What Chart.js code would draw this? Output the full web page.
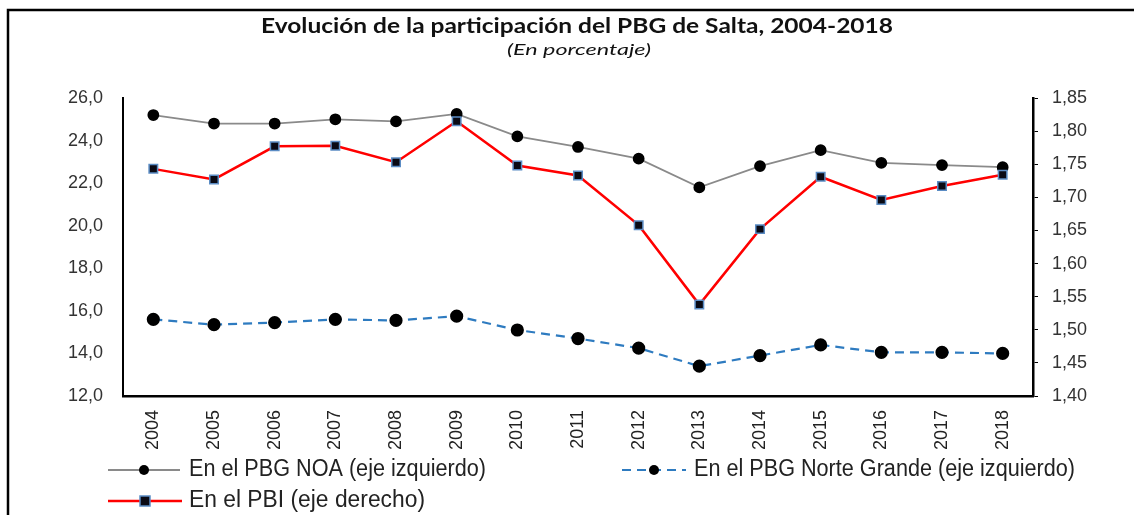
<!DOCTYPE html>
<html>
<head>
<meta charset="utf-8">
<script src="https://cdn.jsdelivr.net/npm/chart.js@4.4.1/dist/chart.umd.min.js"></script>
<style>
  html, body { margin: 0; padding: 0; background: #fff; }
  #wrap { width: 1134px; height: 515px; position: relative; }
</style>
</head>
<body>
<div id="wrap"><canvas id="chart" width="1134" height="515"></canvas></div>
<script>
const years = ["2004", "2005", "2006", "2007", "2008", "2009", "2010", "2011", "2012", "2013", "2014", "2015", "2016", "2017", "2018"];
const pbgNoa = [25.2, 24.8, 24.8, 25.0, 24.9, 25.25, 24.2, 23.7, 23.15, 21.8, 22.8, 23.55, 22.95, 22.85, 22.75];
const pbgNorteGrande = [15.6, 15.35, 15.45, 15.6, 15.55, 15.75, 15.1, 14.7, 14.25, 13.4, 13.9, 14.4, 14.05, 14.05, 14.0];
const pbi = [1.743, 1.727, 1.777, 1.778, 1.753, 1.815, 1.748, 1.733, 1.658, 1.538, 1.652, 1.731, 1.696, 1.717, 1.734];

const titleText = "Evolución de la participación del PBG de Salta, 2004-2018";
const subtitleText = "(En porcentaje)";
const legendNoa = "En el PBG NOA (eje izquierdo)";
const legendNorte = "En el PBG Norte Grande (eje izquierdo)";
const legendPbi = "En el PBI (eje derecho)";

const tickFont = { family: "'Liberation Sans', Arial, sans-serif", size: 18 };

// text drawn stretched/squeezed to the width it has in the original figure
function fitText(ctx, text, x, y, width, align) {
    const w = ctx.measureText(text).width;
    const sx = width / w;
    ctx.save();
    const left = align === "center" ? x - width / 2 : x;
    ctx.translate(left, y);
    ctx.scale(sx, 1);
    ctx.textAlign = "left";
    ctx.fillText(text, 0, 0);
    ctx.restore();
}

// frame, title and the custom legend below the axis
const figurePlugin = {
    id: "figure",
    beforeDraw(chart) {
        const ctx = chart.ctx;
        ctx.save();
        ctx.strokeStyle = "#000";
        ctx.lineWidth = 2.5;
        ctx.beginPath();
        ctx.moveTo(8, 515);
        ctx.lineTo(8, 10);
        ctx.lineTo(1134, 10);
        ctx.stroke();

        ctx.fillStyle = "#111";
        ctx.textBaseline = "middle";
        ctx.font = "bold 20px Lato, 'Open Sans', sans-serif";
        fitText(ctx, titleText, 577, 27, 632, "center");
        ctx.font = "italic 16px Lato, 'Open Sans', sans-serif";
        fitText(ctx, subtitleText, 579, 50, 144, "center");
        ctx.restore();
    },
    afterDraw(chart) {
        const ctx = chart.ctx;
        const ds = chart.data.datasets;
        ctx.save();
        ctx.font = "23px 'Liberation Sans Narrow', 'Arial Narrow', 'Liberation Sans', sans-serif";
        ctx.fillStyle = "#222";
        ctx.textBaseline = "middle";

        function sample(x1, x2, y, d) {
            ctx.save();
            ctx.strokeStyle = d.borderColor;
            ctx.lineWidth = d.borderWidth;
            ctx.setLineDash(d.borderDash || []);
            ctx.beginPath();
            ctx.moveTo(x1, y);
            ctx.lineTo(x2, y);
            ctx.stroke();
            ctx.setLineDash([]);
            ctx.fillStyle = d.pointBackgroundColor;
            ctx.strokeStyle = d.pointBorderColor;
            ctx.lineWidth = 1.5;
            const mx = (x1 + x2) / 2;
            if (d.pointStyle === "rect") {
                ctx.fillRect(mx - 5, y - 5, 10, 10);
                ctx.strokeRect(mx - 5, y - 5, 10, 10);
            } else {
                ctx.beginPath();
                ctx.arc(mx, y, 5, 0, Math.PI * 2);
                ctx.fill();
            }
            ctx.restore();
        }

        sample(108, 180, 470, ds[0]);
        fitText(ctx, ds[0].label, 189, 470, 297, "left");
        sample(622, 686, 470, ds[1]);
        fitText(ctx, ds[1].label, 694, 470, 381, "left");
        sample(108, 182, 501, ds[2]);
        fitText(ctx, ds[2].label, 189, 501, 236, "left");
        ctx.restore();
    }
};

new Chart(document.getElementById("chart"), {
    type: "line",
    data: {
        labels: years,
        datasets: [
            {
                label: legendNoa,
                data: pbgNoa,
                yAxisID: "y",
                borderColor: "#8a8a8a",
                borderWidth: 1.8,
                pointStyle: "circle",
                pointRadius: 5,
                pointBackgroundColor: "#000",
                pointBorderColor: "#000",
                order: 1
            },
            {
                label: legendNorte,
                data: pbgNorteGrande,
                yAxisID: "y",
                borderColor: "#2e7bc0",
                borderWidth: 2.2,
                borderDash: [9, 6],
                pointStyle: "circle",
                pointRadius: 5.5,
                pointBackgroundColor: "#000",
                pointBorderColor: "#000",
                order: 2
            },
            {
                label: legendPbi,
                data: pbi,
                yAxisID: "y1",
                borderColor: "#ff0000",
                borderWidth: 2.5,
                pointStyle: "rect",
                pointRadius: 6,
                pointBackgroundColor: "#0a0a14",
                pointBorderColor: "#5b8cc4",
                pointBorderWidth: 1.5,
                order: 0
            }
        ]
    },
    options: {
        responsive: false,
        animation: false,
        layout: { padding: { left: 0, right: 0, top: 98, bottom: 0 } },
        plugins: {
            legend: { display: false },
            tooltip: { enabled: false },
            title: { display: false }
        },
        scales: {
            x: {
                offset: true,
                afterFit(scale) { scale.height = 119; },
                border: { display: true, color: "#000", width: 2.5 },
                grid: { display: false },
                ticks: {
                    color: "#222",
                    font: tickFont,
                    minRotation: 90,
                    maxRotation: 90,
                    padding: 6
                }
            },
            y: {
                position: "left",
                min: 12,
                max: 26,
                afterFit(scale) { scale.width = 123; },
                border: { display: true, color: "#000", width: 2 },
                grid: { display: false },
                ticks: {
                    stepSize: 2,
                    color: "#333",
                    font: tickFont,
                    padding: 12,
                    callback: v => v.toFixed(1).replace(".", ",")
                }
            },
            y1: {
                position: "right",
                min: 1.40,
                max: 1.85,
                afterFit(scale) { scale.width = 101; },
                border: { display: true, color: "#000", width: 2.5 },
                grid: { display: true, drawOnChartArea: false, drawTicks: true, tickLength: 5, color: "#000", tickWidth: 1 },
                ticks: {
                    stepSize: 0.05,
                    color: "#333",
                    font: tickFont,
                    padding: 14,
                    callback: v => v.toFixed(2).replace(".", ",")
                }
            }
        }
    },
    plugins: [figurePlugin]
});
</script>
</body>
</html>
